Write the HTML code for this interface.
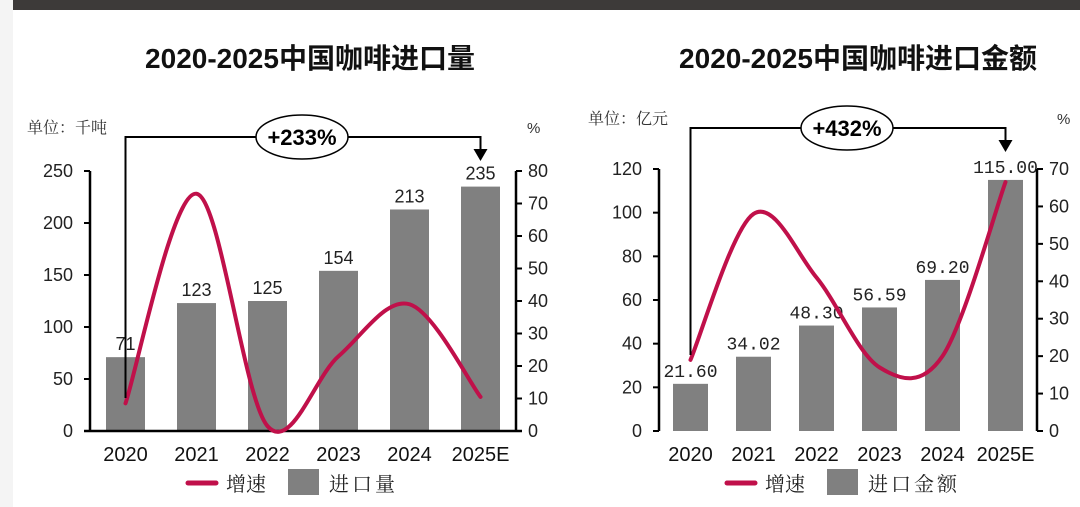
<!DOCTYPE html>
<html><head><meta charset="utf-8">
<style>
html,body{margin:0;padding:0;background:#fff;}
body{width:1080px;height:507px;overflow:hidden;position:relative;font-family:"Liberation Sans","Noto Sans CJK SC",sans-serif;}
</style></head>
<body>
<svg id="chart" width="1080" height="507" viewBox="0 0 1080 507" xmlns="http://www.w3.org/2000/svg" style="position:absolute;left:0;top:0">
  <rect x="0" y="0" width="13" height="507" fill="#f4f4f4"/>
  <rect x="13" y="0" width="1067" height="10" fill="#3d3a39"/>
  <text x="310" y="68" text-anchor="middle" font-size="28" font-weight="bold" fill="#111" font-family="Liberation Sans, Noto Sans CJK SC, sans-serif">2020-2025中国咖啡进口量</text>
  <text x="858" y="68" text-anchor="middle" font-size="28" font-weight="bold" fill="#111" font-family="Liberation Sans, Noto Sans CJK SC, sans-serif">2020-2025中国咖啡进口金额</text>
</svg>
<script>
const categories = ["2020","2021","2022","2023","2024","2025E"];
const volumeValues = [71,123,125,154,213,235];
const volumeLabels = ["71","123","125","154","213","235"];
const volumeGrowth = [8.5,73,1.5,23,39,10.5];
const volumeTicks = [0,50,100,150,200,250];
const volumePctTicks = [0,10,20,30,40,50,60,70,80];
const valueValues = [21.6,34.02,48.3,56.59,69.2,115];
const valueLabels = ["21.60","34.02","48.30","56.59","69.20","115.00"];
const valueGrowth = [19,58,41,17,20,66.5];
const valueTicks = [0,20,40,60,80,100,120];
const valuePctTicks = [0,10,20,30,40,50,60,70];

const NS="http://www.w3.org/2000/svg";
const svg=document.getElementById('chart');
function mk(tag,attrs,parent){const e=document.createElementNS(NS,tag);for(const k in attrs)e.setAttribute(k,attrs[k]);(parent||svg).appendChild(e);return e;}

function drawChart(cfg){
  const g=mk('g',{});
  
  
  const band=(cfg.x1-cfg.x0)/categories.length;
  const xC=i=>cfg.x0+band*(i+0.5);
  const yL=v=>cfg.yBase-(v/cfg.lMax)*(cfg.yBase-cfg.yTop);
  const yR=v=>cfg.yBase-(v/cfg.rMax)*(cfg.yBase-cfg.yTop);
  cfg.values.forEach((v,i)=>{
    const r=mk('rect',{x:xC(i)-cfg.bw/2,y:yL(v),width:cfg.bw,height:cfg.yBase-yL(v),fill:'#808080'},g);
    
    
    const t=mk('text',{x:xC(i),y:yL(v)-7,'text-anchor':'middle','font-size':cfg.lblSize,fill:'#222','font-family':cfg.lblFont},g);
    t.textContent=cfg.labels[i];
    
    
  });
  const la=mk('line',{x1:cfg.x0,y1:cfg.yTop,x2:cfg.x0,y2:cfg.yBase,stroke:'#000','stroke-width':2.5},g);
  
  
  const ra=mk('line',{x1:cfg.x1,y1:cfg.yTop,x2:cfg.x1,y2:cfg.yBase,stroke:'#000','stroke-width':2.5},g);
  
  
  if(cfg.baseline){
    const b=mk('line',{x1:cfg.x0-6,y1:cfg.yBase,x2:cfg.x1+6,y2:cfg.yBase,stroke:'#000','stroke-width':2.5},g);
    
    
  }
  cfg.lTicks.forEach(v=>{
    mk('line',{x1:cfg.x0-6,y1:yL(v),x2:cfg.x0,y2:yL(v),stroke:'#000','stroke-width':2},g);
    const t=mk('text',{x:cfg.x0-17,y:yL(v)+6,'text-anchor':'end','font-size':18,fill:'#222','font-family':cfg.tickFont},g);
    t.textContent=v;
    
    
  });
  cfg.rTicks.forEach(v=>{
    mk('line',{x1:cfg.x1,y1:yR(v),x2:cfg.x1+6,y2:yR(v),stroke:'#000','stroke-width':2},g);
    const t=mk('text',{x:cfg.x1+12,y:yR(v)+6,'text-anchor':'start','font-size':18,fill:'#222','font-family':cfg.tickFont},g);
    t.textContent=v;
    
    
  });
  categories.forEach((c,i)=>{
    const t=mk('text',{x:xC(i),y:cfg.yBase+30,'text-anchor':'middle','font-size':20,fill:'#111'},g);
    t.textContent=c;
    
    
  });
  const pts=cfg.growth.map((v,i)=>[xC(i),yR(v)]);
  let d='M'+pts[0][0]+','+pts[0][1];
  for(let i=0;i<pts.length-1;i++){
    const p0=pts[Math.max(0,i-1)],p1=pts[i],p2=pts[i+1],p3=pts[Math.min(pts.length-1,i+2)];
    const c1=[p1[0]+(p2[0]-p0[0])/6,p1[1]+(p2[1]-p0[1])/6];
    const c2=[p2[0]-(p3[0]-p1[0])/6,p2[1]-(p3[1]-p1[1])/6];
    d+=' C'+c1[0]+','+c1[1]+' '+c2[0]+','+c2[1]+' '+p2[0]+','+p2[1];
  }
  const ln=mk('path',{d:d,fill:'none',stroke:'#c0104a','stroke-width':4,'stroke-linecap':'round'},g);
  
  
  const ax0=xC(0), ax1=xC(categories.length-1);
  const an=mk('path',{d:'M'+ax0+','+cfg.annBottom+' V'+cfg.annY+' H'+ax1+' V'+(cfg.annY+14),fill:'none',stroke:'#000','stroke-width':2},g);
  
  
  const ar=mk('path',{d:'M'+(ax1-7)+','+(cfg.annY+12)+' L'+(ax1+7)+','+(cfg.annY+12)+' L'+ax1+','+(cfg.annY+24)+'Z',fill:'#000'},g);
  
  
  const el=mk('ellipse',{cx:cfg.ellX,cy:cfg.annY,rx:46,ry:22,fill:'#fff',stroke:'#000','stroke-width':1.5},g);
  
  
  const et=mk('text',{x:cfg.ellX,y:cfg.annY+8,'text-anchor':'middle','font-size':22,'font-weight':'bold',fill:'#000'},g);
  et.textContent=cfg.ann;
  
  
  const u=mk('text',{x:cfg.unitX,y:cfg.annY-4,'font-size':16,fill:'#333','font-family':'Noto Serif CJK SC, serif'},g);
  u.textContent=cfg.unit;
  
  
  const p=mk('text',{x:cfg.pctX,y:cfg.annY-4,'font-size':15,fill:'#333'},g);
  p.textContent='%';
  
  
  const lg=mk('g',{},g);
  
  
  mk('line',{x1:cfg.legX,y1:483,x2:cfg.legX+28,y2:483,stroke:'#c0104a','stroke-width':5,'stroke-linecap':'round'},lg);
  const l1=mk('text',{x:cfg.legX+38,y:491,'font-size':20,fill:'#222','font-family':'Noto Serif CJK SC, serif'},lg);
  l1.textContent='增速';
  
  
  mk('rect',{x:cfg.legX+100,y:469,width:31,height:26,fill:'#808080'},lg);
  const l2=mk('text',{x:cfg.legX+141,y:491,'font-size':20,fill:'#222','font-family':'Noto Serif CJK SC, serif','letter-spacing':3},lg);
  l2.textContent=cfg.legName;
  
  
}

drawChart({name:'import-volume-chart',x0:90,x1:516,yTop:171,yBase:431,lMax:250,rMax:80,bw:39,
  values:volumeValues,labels:volumeLabels,growth:volumeGrowth,lTicks:volumeTicks,rTicks:volumePctTicks,
  lblSize:18,lblFont:'Liberation Sans, sans-serif',tickFont:'Liberation Sans, sans-serif',baseline:true,
  annY:137,annBottom:398,ellX:302,ann:'+233%',unit:'单位：千吨',unitX:27,pctX:527,legX:188,legName:'进口量'});
drawChart({name:'import-value-chart',x0:659,x1:1037,yTop:169,yBase:431,lMax:120,rMax:70,bw:35,
  values:valueValues,labels:valueLabels,growth:valueGrowth,lTicks:valueTicks,rTicks:valuePctTicks,
  lblSize:18,lblFont:'Liberation Mono, monospace',tickFont:'Liberation Sans, sans-serif',baseline:false,
  annY:128,annBottom:355,ellX:847,ann:'+432%',unit:'单位：亿元',unitX:588,pctX:1057,legX:727,legName:'进口金额'});
</script>
</body></html>
